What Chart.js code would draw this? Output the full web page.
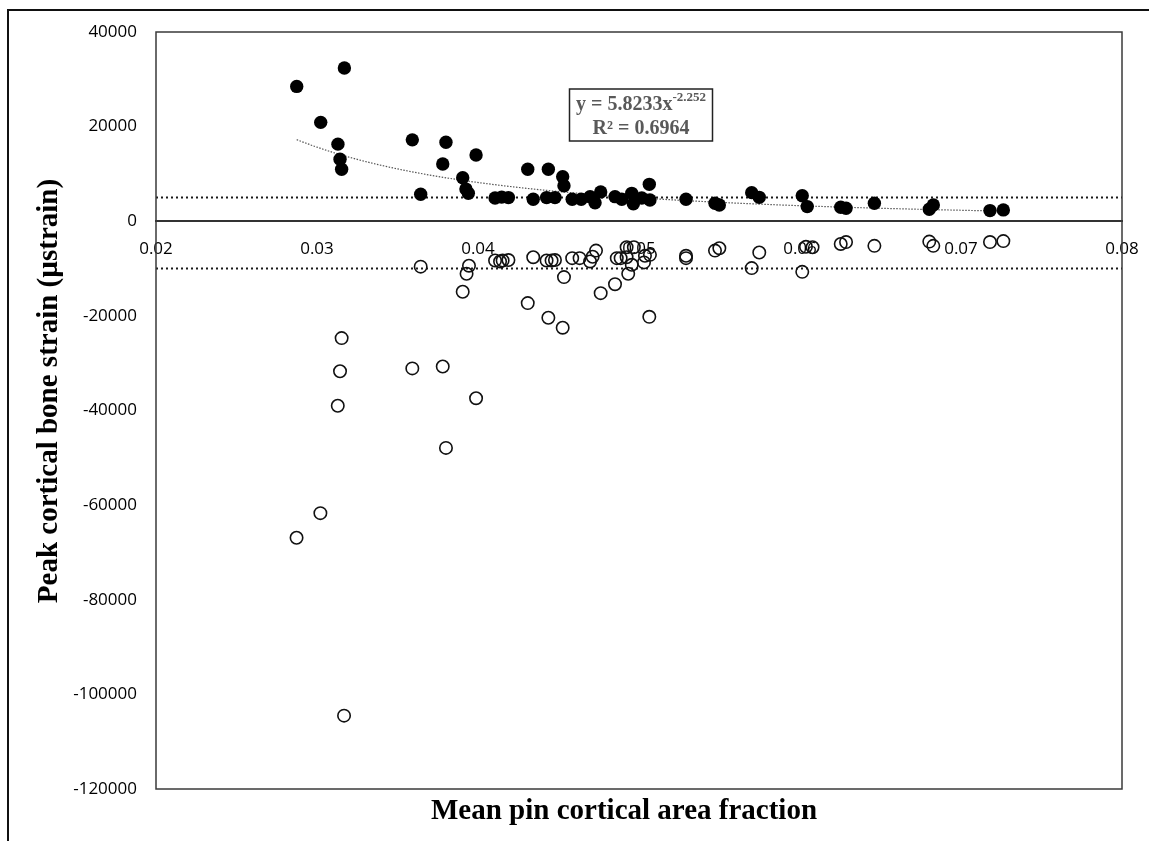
<!DOCTYPE html>
<html><head><meta charset="utf-8">
<script src="https://cdn.jsdelivr.net/npm/chart.js@4.4.1/dist/chart.umd.min.js"></script>
<style>
html,body{margin:0;padding:0;background:#fff;overflow:hidden;}
#wrap{position:relative;width:1149px;height:841px;}
#frame{position:absolute;left:7px;top:9px;width:1200px;height:900px;border-left:2px solid #111;border-top:2px solid #111;pointer-events:none;}
</style></head><body>
<div id="wrap"><canvas id="c" width="1149" height="841"></canvas><div id="frame"></div></div>
<script>
// ---- data ----
const xTickValues = [0.02, 0.03, 0.04, 0.05, 0.06, 0.07, 0.08];
const xTickLabels = ['0.02', '0.03', '0.04', '0.05', '0.06', '0.07', '0.08'];
const yTickValues = [40000, 20000, 0, -20000, -40000, -60000, -80000, -100000, -120000];
const yTickLabels = ['40000', '20000', '0', '-20000', '-40000', '-60000', '-80000', '-100000', '-120000'];

const tensileX = [0.02874, 0.03023, 0.03130, 0.03143, 0.03153, 0.03170, 0.03592, 0.03644, 0.03781, 0.03801,
  0.03988, 0.03905, 0.03925, 0.03940, 0.04106, 0.04147, 0.04189, 0.04309, 0.04437, 0.04526,
  0.04534, 0.04343, 0.04426, 0.04478, 0.04585, 0.04641, 0.04696, 0.04762, 0.04727, 0.04851,
  0.04893, 0.04955, 0.04965, 0.05017, 0.05064, 0.05068, 0.05292, 0.05472, 0.05499, 0.05700,
  0.05747, 0.06014, 0.06045, 0.06253, 0.06286, 0.06462, 0.06803, 0.06828, 0.07180, 0.07263];
const tensileY = [28500, 20900, 16300, 13100, 11000, 32400, 17200, 5700, 12100, 16700,
  14000, 9200, 6800, 5900, 4900, 5100, 5000, 11000, 11000, 9400,
  7500, 4650, 5000, 5000, 4650, 4650, 5200, 6200, 3900, 5200,
  4650, 5900, 3700, 4900, 7800, 4500, 4650, 3800, 3450, 6050,
  5050, 5400, 3100, 2950, 2750, 3800, 2550, 3450, 2250, 2400];

const compressiveX = [0.02873, 0.03021, 0.03129, 0.03143, 0.03153, 0.03168, 0.03592, 0.03644, 0.03781, 0.03801,
  0.03905, 0.03929, 0.03944, 0.03988, 0.04106, 0.04137, 0.04153, 0.04189, 0.04309, 0.04343,
  0.04426, 0.04437, 0.04457, 0.04478, 0.04526, 0.04534, 0.04585, 0.04631, 0.04696, 0.04712,
  0.04733, 0.04762, 0.04851, 0.04862, 0.04886, 0.04923, 0.04933, 0.04955, 0.04923, 0.04968,
  0.05031, 0.05037, 0.05068, 0.05064, 0.05292, 0.05292, 0.05472, 0.05499, 0.05700, 0.05747,
  0.06014, 0.06037, 0.06078, 0.06253, 0.06286, 0.06462, 0.06803, 0.06828, 0.07180, 0.07263];
const compressiveY = [-66900, -61700, -39000, -31700, -24700, -104500, -31100, -9600, -30700, -47900,
  -14900, -11100, -9400, -37400, -8300, -8500, -8300, -8200, -17300, -7600,
  -8300, -20400, -8300, -8200, -22500, -11800, -7800, -7800, -8500, -7500,
  -6200, -15200, -13300, -7800, -7800, -7600, -11100, -9200, -5500, -5500,
  -8700, -7300, -7100, -20200, -7300, -7800, -6200, -5700, -9900, -6600,
  -10700, -5400, -5500, -4800, -4400, -5200, -4300, -5200, -4400, -4200];

const thresholdTension = 5000;
const thresholdCompression = -10000;
const fitCoef = 5.8233;
const fitExp = -2.252;
const fitR2 = '0.6964';

// ---- derived ----
const xMin = xTickValues[0], xMax = xTickValues[xTickValues.length - 1];
const yMax = yTickValues[0], yMin = yTickValues[yTickValues.length - 1];
const tensilePts = tensileX.map((v, i) => ({x: v, y: tensileY[i]}));
const compressivePts = compressiveX.map((v, i) => ({x: v, y: compressiveY[i]}));
const fMin = Math.min(...tensileX), fMax = Math.max(...tensileX);
const trendPts = [];
for (let i = 0; i <= 80; i++) {
  const xv = fMin + (fMax - fMin) * i / 80;
  trendPts.push({x: xv, y: fitCoef * Math.pow(xv, fitExp)});
}

const overlay = {
  id: 'overlay',
  afterDraw(chart) {
    const {ctx, chartArea: a} = chart;
    ctx.save();
    // plot frame
    ctx.strokeStyle = '#3a3a3a';
    ctx.lineWidth = 1.5;
    ctx.strokeRect(a.left, a.top, a.right - a.left, a.bottom - a.top);
    // axis titles
    ctx.fillStyle = '#000';
    ctx.font = 'bold 29px "Liberation Serif", "Times New Roman", serif';
    ctx.textAlign = 'center';
    ctx.textBaseline = 'middle';
    ctx.fillText('Mean pin cortical area fraction', 624, 812);
    ctx.save();
    ctx.translate(50, 391);
    ctx.rotate(-Math.PI / 2);
    ctx.fillText('Peak cortical bone strain (\u00b5strain)', 0, 0);
    ctx.restore();
    // equation box
    const bx = 569.5, by = 89, bw = 143, bh = 52;
    ctx.fillStyle = '#fff';
    ctx.fillRect(bx, by, bw, bh);
    ctx.strokeStyle = '#222';
    ctx.lineWidth = 1.5;
    ctx.strokeRect(bx, by, bw, bh);
    ctx.fillStyle = '#595959';
    ctx.textBaseline = 'alphabetic';
    ctx.textAlign = 'left';
    const mainFont = 'bold 20px "Liberation Serif", "Times New Roman", serif';
    const supFont = 'bold 13px "Liberation Serif", "Times New Roman", serif';
    const t1 = 'y = ' + fitCoef + 'x';
    const t1s = String(fitExp);
    ctx.font = mainFont;
    const w1 = ctx.measureText(t1).width;
    ctx.font = supFont;
    const w1s = ctx.measureText(t1s).width;
    const cx = bx + bw / 2;
    const sx = cx - (w1 + w1s) / 2;
    ctx.font = mainFont;
    ctx.fillText(t1, sx, 110);
    ctx.font = supFont;
    ctx.fillText(t1s, sx + w1, 101);
    ctx.font = mainFont;
    ctx.textAlign = 'center';
    ctx.fillText('R\u00b2 = ' + fitR2, cx, 134);
    ctx.restore();
  }
};

new Chart(document.getElementById('c'), {
  type: 'scatter',
  data: {
    datasets: [
      {label: 'Tension threshold', type: 'line', data: [{x: xMin, y: thresholdTension}, {x: xMax, y: thresholdTension}],
        borderColor: '#1a1a1a', borderWidth: 2, borderDash: [2, 3], pointRadius: 0, fill: false, order: 5},
      {label: 'Compression threshold', type: 'line', data: [{x: xMin, y: thresholdCompression}, {x: xMax, y: thresholdCompression}],
        borderColor: '#1a1a1a', borderWidth: 2, borderDash: [2, 3], pointRadius: 0, fill: false, order: 5},
      {label: 'Power fit', type: 'line', data: trendPts, borderColor: '#555', borderWidth: 1.2, borderDash: [1.5, 1.5],
        pointRadius: 0, fill: false, tension: 0, order: 4},
      {label: 'Compressive', data: compressivePts, pointRadius: 6.2, pointBorderWidth: 1.6,
        pointBorderColor: '#111', pointBackgroundColor: 'rgba(0,0,0,0)', order: 3},
      {label: 'Tensile', data: tensilePts, pointRadius: 6.7, pointBorderWidth: 0,
        pointBorderColor: '#000', pointBackgroundColor: '#000', order: 2}
    ]
  },
  options: {
    responsive: false,
    animation: false,
    layout: {autoPadding: false, padding: {left: 0, top: 32, right: 27, bottom: 52}},
    plugins: {legend: {display: false}, tooltip: {enabled: false}},
    scales: {
      x: {
        type: 'linear', min: xMin, max: xMax, position: {y: 0},
        afterBuildTicks: s => { s.ticks = xTickValues.map(v => ({value: v})); },
        afterFit: s => { s.paddingLeft = 0; s.paddingRight = 0; s.paddingTop = 0; s.paddingBottom = 0; },
        ticks: {callback: (v, i) => xTickLabels[i], color: '#000', padding: 18, maxRotation: 0, autoSkip: false,
          font: {family: '"Open Sans", "Liberation Sans", sans-serif', size: 17}},
        grid: {display: false, drawTicks: false},
        border: {display: true, color: '#333', width: 2}
      },
      y: {
        type: 'linear', min: yMin, max: yMax,
        afterBuildTicks: s => { s.ticks = yTickValues.map(v => ({value: v})); },
        afterFit: s => { s.width = 156; s.paddingTop = 0; s.paddingBottom = 0; },
        ticks: {callback: (v) => yTickLabels[yTickValues.indexOf(v)], color: '#000', padding: 19, autoSkip: false,
          font: {family: '"Open Sans", "Liberation Sans", sans-serif', size: 17}},
        grid: {display: false, drawTicks: false},
        border: {display: false}
      }
    }
  },
  plugins: [overlay]
});
</script>
</body></html>
